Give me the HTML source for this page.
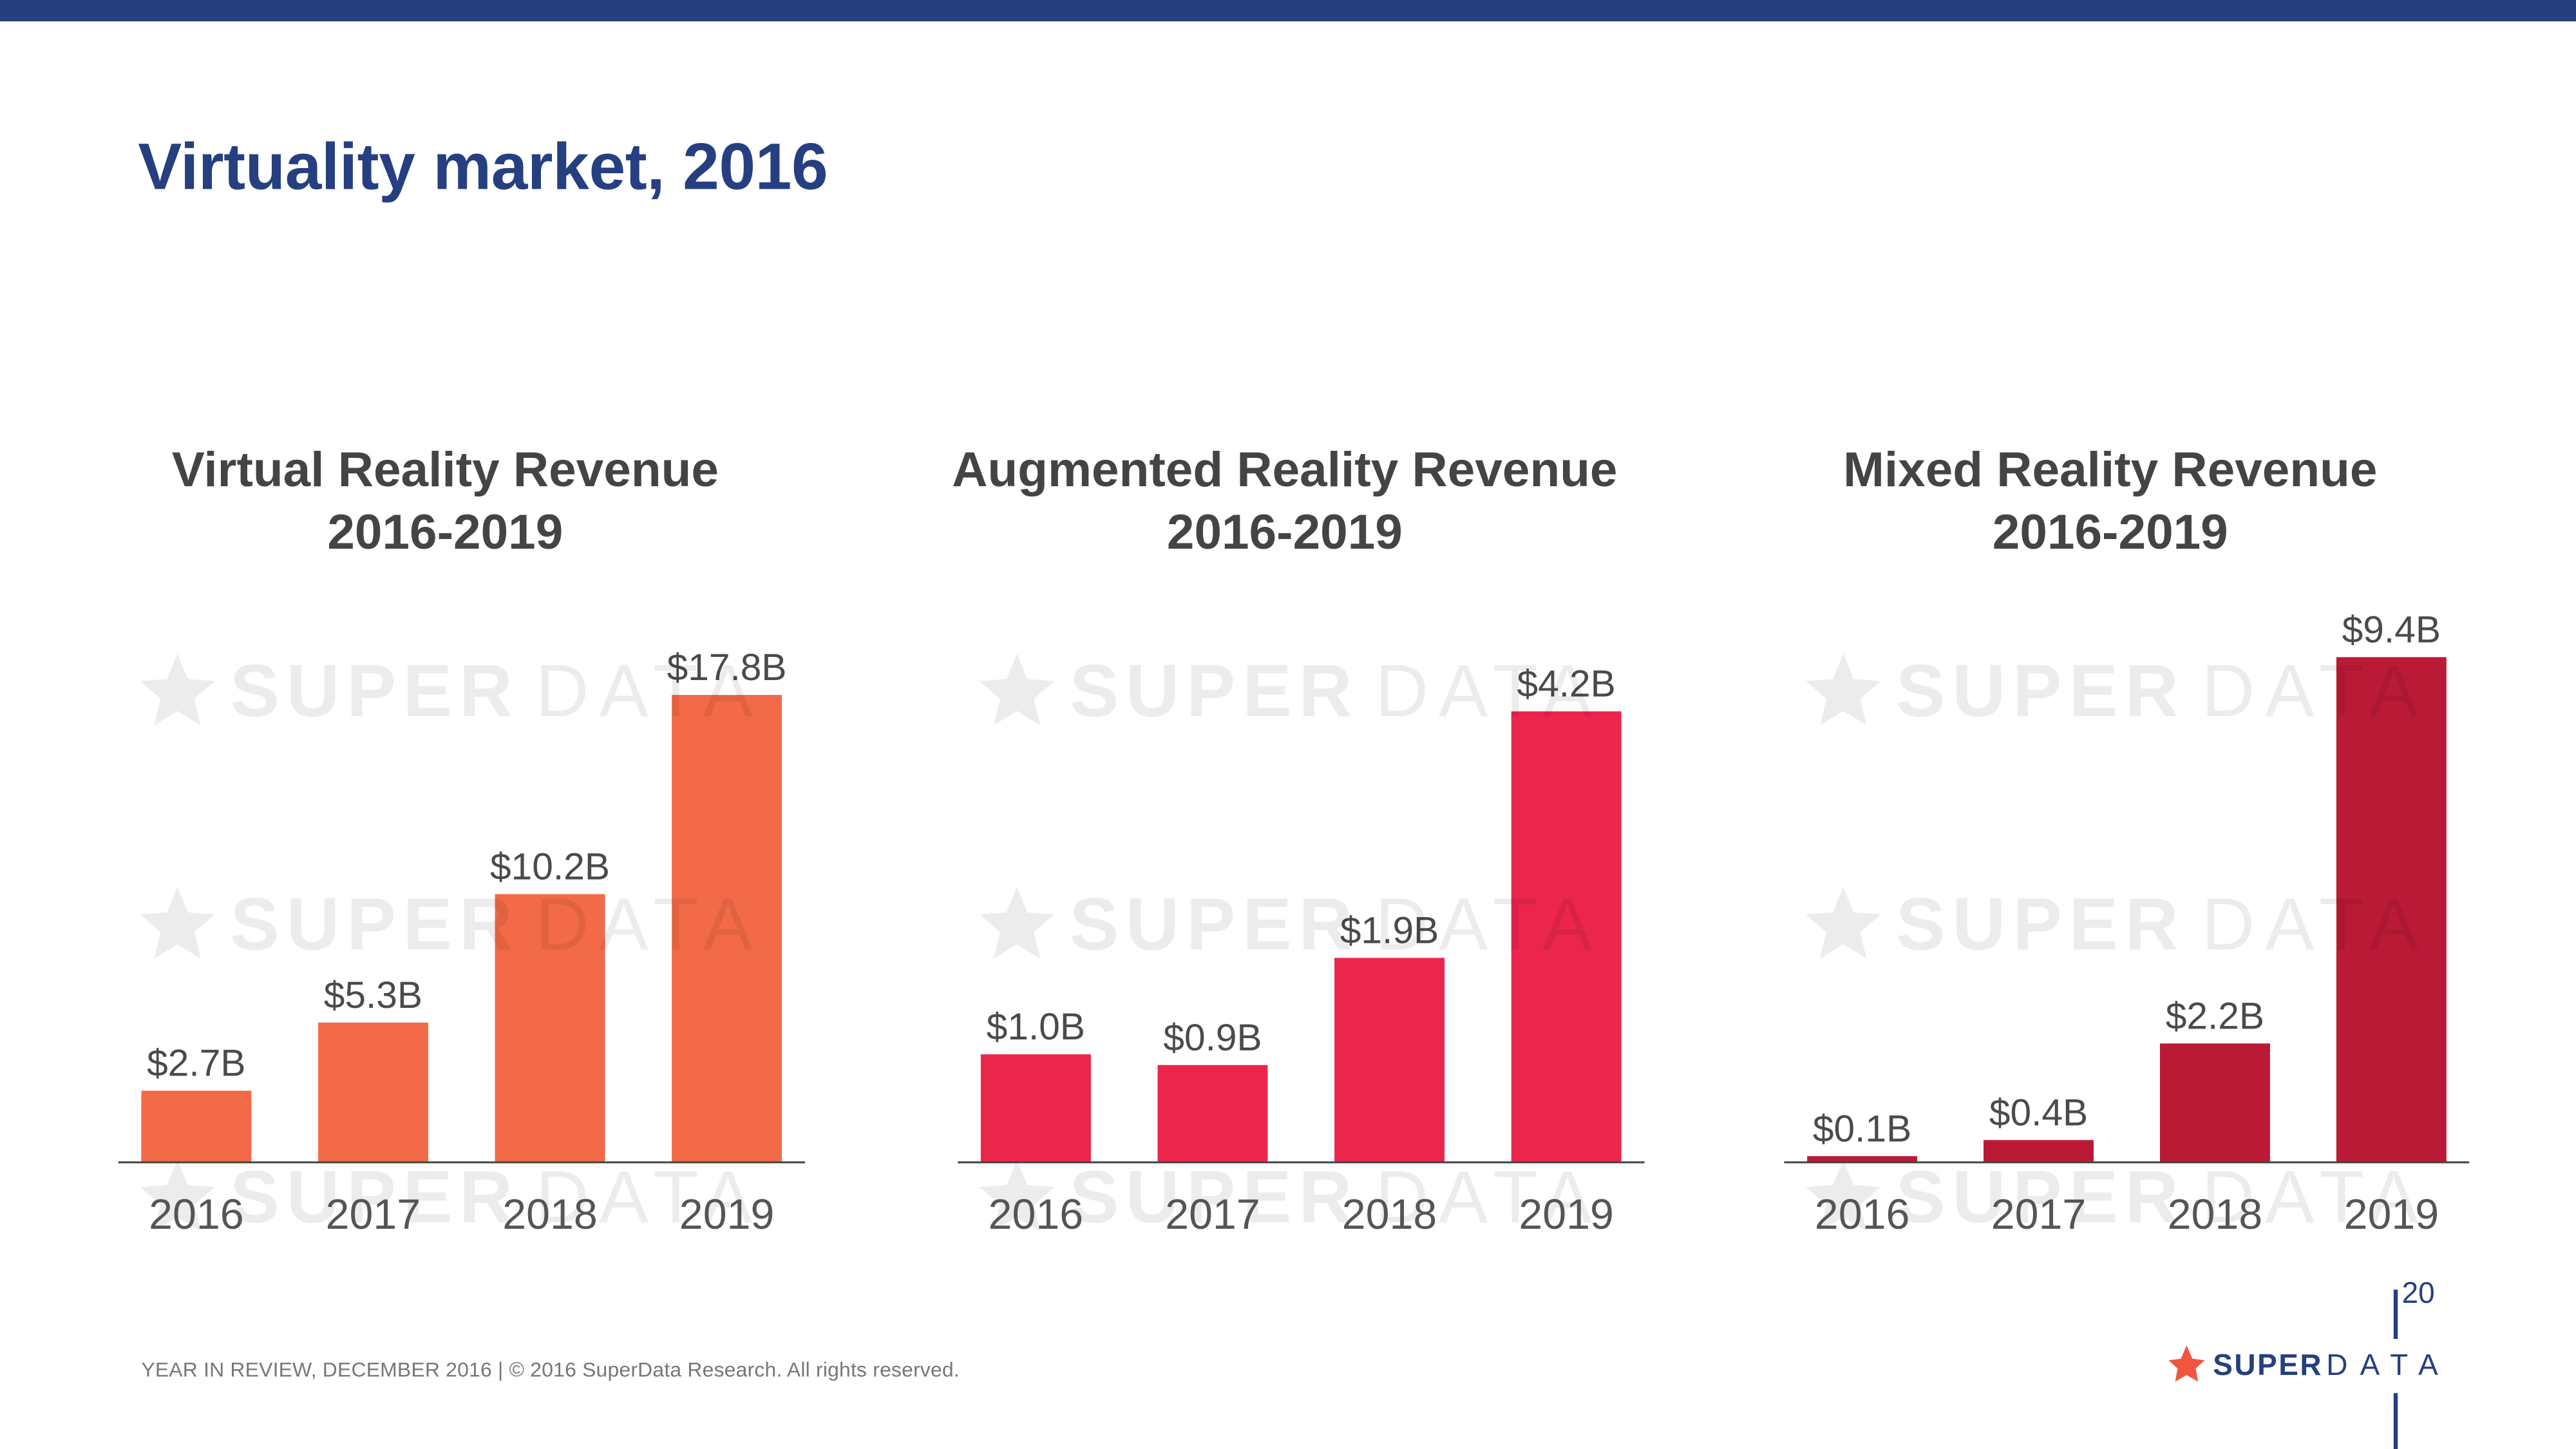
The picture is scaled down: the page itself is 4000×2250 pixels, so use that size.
<!DOCTYPE html>
<html><head><meta charset="utf-8"><style>
html,body{margin:0;padding:0;background:#fff;}
svg{display:block;font-family:"Liberation Sans",sans-serif;}
</style></head><body>
<svg id="s" width="4000" height="2250" viewBox="0 0 1568 882" preserveAspectRatio="none">
<rect x="0" y="0" width="1568" height="13" fill="#253f7f"/>
<text x="84" y="115" font-size="40" font-weight="bold" fill="#253f80" textLength="420">Virtuality market, 2016</text>
<g id="charts"></g>
<text x="86" y="838" font-size="12.5" fill="#777" textLength="498">YEAR IN REVIEW, DECEMBER 2016  |  © 2016 SuperData Research. All rights reserved.</text>
<rect x="1457" y="785" width="2.5" height="30" fill="#253f7f"/>
<rect x="1457" y="848" width="2.5" height="34" fill="#253f7f"/>
<text x="1462" y="793" font-size="18" fill="#253f7f">20</text>
<polygon points="1331,819 1334.5,827 1342,828 1336.5,833 1338,841 1331,837 1324,841 1325.5,833 1320,828 1327.5,827" fill="#f05540"/>
<text x="1347" y="837" font-size="18" font-weight="bold" fill="#253f7f" textLength="66">SUPER</text>
<text x="1416" y="837" font-size="18" fill="#253f7f" textLength="68">DATA</text>
</svg>
<script>
const years = ["2016","2017","2018","2019"];
const vrValues = [2.7, 5.3, 10.2, 17.8];
const arValues = [1.0, 0.9, 1.9, 4.2];
const mrValues = [0.1, 0.4, 2.2, 9.4];
const vrLabels = ["$2.7B","$5.3B","$10.2B","$17.8B"];
const arLabels = ["$1.0B","$0.9B","$1.9B","$4.2B"];
const mrLabels = ["$0.1B","$0.4B","$2.2B","$9.4B"];
const charts = [
 {name:"vr", t1:"Virtual Reality Revenue", vals:vrValues, labels:vrLabels, color:"#f26a47", x0:72, x1:490, max:17.8, top:423},
 {name:"ar", t1:"Augmented Reality Revenue", vals:arValues, labels:arLabels, color:"#ec254d", x0:583, x1:1001, max:4.2, top:433},
 {name:"mr", t1:"Mixed Reality Revenue", vals:mrValues, labels:mrLabels, color:"#bb1a36", x0:1086, x1:1503, max:9.4, top:400}
];
const NS="http://www.w3.org/2000/svg";
const g=document.getElementById('charts');
function el(tag,attrs,parent){const e=document.createElementNS(NS,tag);for(const k in attrs)e.setAttribute(k,attrs[k]);(parent||g).appendChild(e);return e;}
const base=707;
charts.forEach(c=>{
  const cg=el('g',{});
  
  
  const cx=(c.x0+c.x1)/2-10;
  const t=el('text',{x:cx,y:296,'font-size':30,'font-weight':'bold',fill:"#444",'text-anchor':'middle'},cg);
  t.textContent=c.t1;
  
  
  const t2=el('text',{x:cx,y:334,'font-size':30,'font-weight':'bold',fill:"#444",'text-anchor':'middle'},cg);
  t2.textContent="2016-2019";
  
  
  const scale=(base-c.top)/c.max;
  const y=v=>base-v*scale;
  const step=(c.x1-c.x0)/4;
  c.vals.forEach((v,i)=>{
    const bx=c.x0+14+i*step*1.03, bw=67;
    const b=el('rect',{x:bx,y:y(v),width:bw,height:base-y(v),fill:c.color},cg);
    
    
    const lb=el('text',{x:bx+bw/2,y:y(v)-9,'font-size':23,fill:"#4a4a4a",'text-anchor':'middle'},cg);
    lb.textContent=c.labels[i];
    
    
  });
  [420,562,728].forEach((wy,i)=>{
    const sx=c.x0+36, r=24;
    let pts=[];
    for(let k=0;k<10;k++){const a=-Math.PI/2+k*Math.PI/5;const rr=k%2?r*0.45:r;pts.push((sx+rr*Math.cos(a)).toFixed(1)+","+(wy+2+rr*Math.sin(a)).toFixed(1));}
    const st=el('polygon',{points:pts.join(' '),fill:"#000",'fill-opacity':0.075},cg);
    
    
    const w1=el('text',{x:c.x0+68,y:wy+16,'font-size':45,fill:"#000",'fill-opacity':0.075,'font-weight':'bold',textLength:172,lengthAdjust:'spacing'},cg);
    w1.textContent='SUPER';
    
    
    const w2=el('text',{x:c.x0+254,y:wy+16,'font-size':45,fill:"#000",'fill-opacity':0.075,textLength:132,lengthAdjust:'spacing'},cg);
    w2.textContent='DATA';
    
    
  });
  c.vals.forEach((v,i)=>{
    const bx=c.x0+14+i*step*1.03, bw=67;
    const yl=el('text',{x:bx+bw/2,y:748,'font-size':26,fill:"#555",'text-anchor':'middle'},cg);
    yl.textContent=years[i];
    
    
  });
  const ax=el('line',{x1:c.x0,x2:c.x1,y1:base+0.5,y2:base+0.5,stroke:"#444",'stroke-width':1.2},cg);
  
  
});
</script>
</body></html>
